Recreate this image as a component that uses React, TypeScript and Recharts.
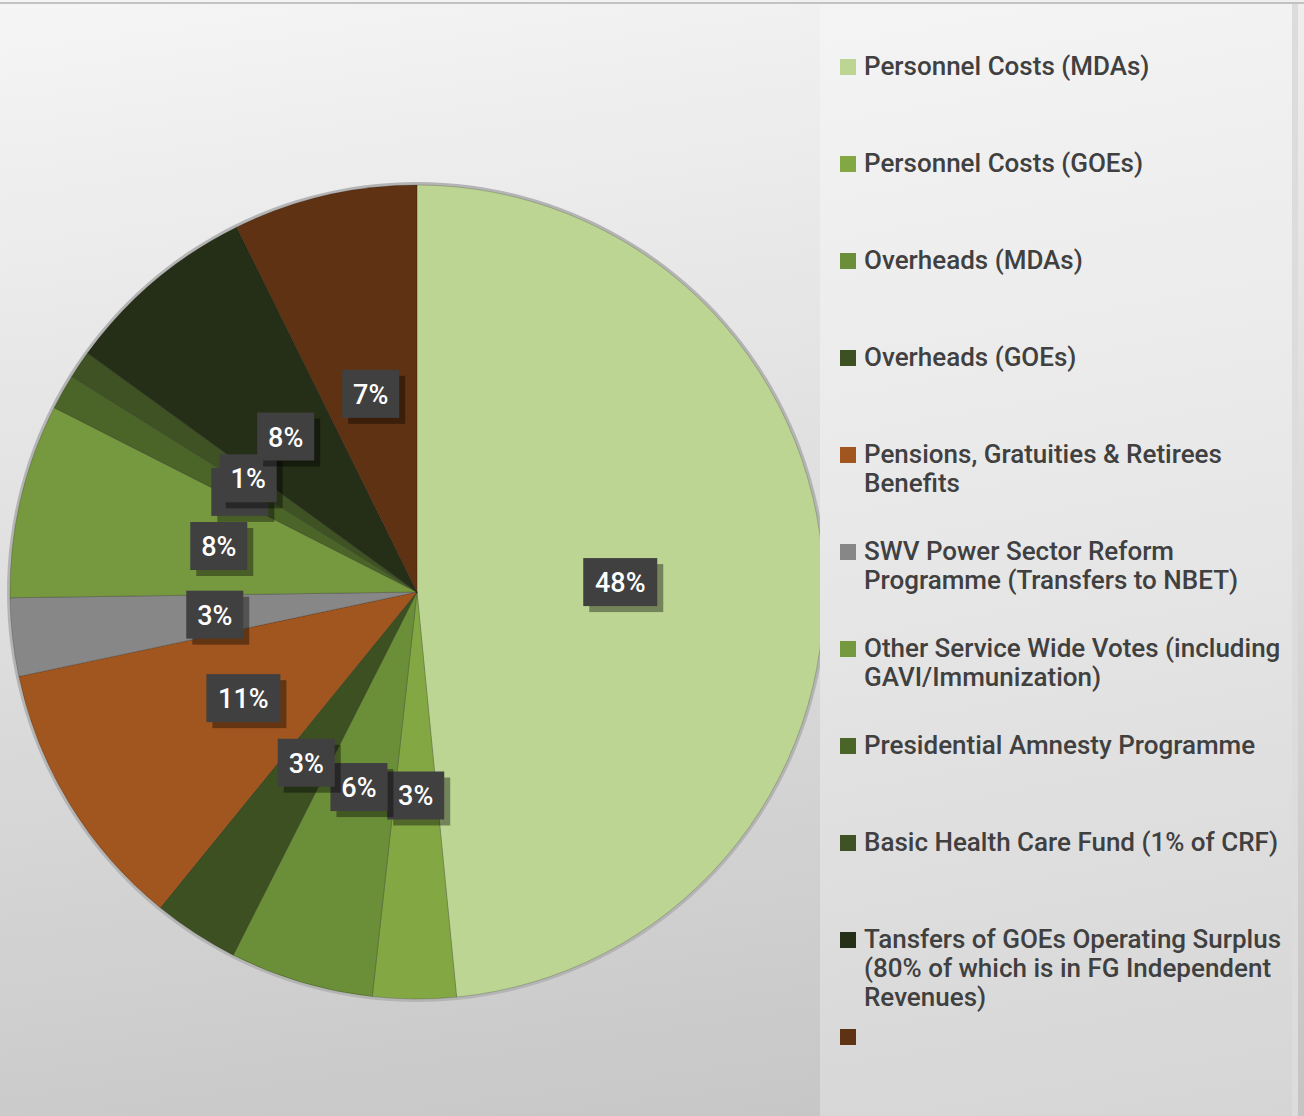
import { PieChart, Pie, Cell, Legend } from "recharts";

const categories = [
  "Personnel Costs (MDAs)",
  "Personnel Costs (GOEs)",
  "Overheads (MDAs)",
  "Overheads (GOEs)",
  "Pensions, Gratuities & Retirees Benefits",
  "SWV Power Sector Reform Programme (Transfers to NBET)",
  "Other Service Wide Votes (including GAVI/Immunization)",
  "Presidential Amnesty Programme",
  "Basic Health Care Fund (1% of CRF)",
  "Tansfers of GOEs Operating Surplus (80% of which is in FG Independent Revenues)",
  "",
];

const shares = [48.4, 3.3, 5.7, 3.4, 10.8, 3.1, 7.7, 1.4, 1.1, 7.7, 7.3];

const sliceColors = [
  "#bcd592",
  "#83a843",
  "#6b8e38",
  "#3c5021",
  "#a2561f",
  "#878787",
  "#76983e",
  "#4b6428",
  "#3e5223",
  "#252e16",
  "#5f3213",
];

const data = categories.map((name, i) => ({ name, value: shares[i], key: `s${i}` }));

const RAD = Math.PI / 180;
const FONT = "Roboto, 'Noto Sans', sans-serif";

function PctLabel(props: any) {
  const { cx, cy, midAngle, outerRadius, percent } = props;
  const r = outerRadius * 0.5;
  const x = cx + r * Math.cos(-midAngle * RAD);
  const y = cy + r * Math.sin(-midAngle * RAD);
  const text = `${Math.round(percent * 100)}%`;
  const w = text.length >= 3 ? 74 : 57;
  const h = 48;
  return (
    <g>
      <rect x={x - w / 2 + 6} y={y - h / 2 + 6} width={w} height={h} fill="rgba(0,0,0,0.38)" />
      <rect x={x - w / 2} y={y - h / 2} width={w} height={h} fill="#404040" />
      <text
        x={x}
        y={y + 1}
        fill="#ffffff"
        textAnchor="middle"
        dominantBaseline="central"
        fontFamily={FONT}
        fontWeight={500}
        fontSize={27}
      >
        {text}
      </text>
    </g>
  );
}

// legend keeps the slice order (recharts would sort it by name)
function LegendBox() {
  return (
    <div
      style={{
        width: 478,
        height: 1112,
        background: "linear-gradient(170deg, #f4f4f4 0%, #e8e8e8 45%, #d5d5d5 100%)",
        borderRight: "6px solid #dcdcdc",
        boxSizing: "border-box",
        paddingTop: 48,
        fontFamily: FONT,
      }}
    >
      {categories.map((name, i) => (
        <div key={i} style={{ height: 97, display: "flex", alignItems: "flex-start" }}>
          <div
            style={{
              width: 16,
              height: 16,
              marginLeft: 20,
              marginTop: 7,
              flex: "0 0 16px",
              background: sliceColors[i],
            }}
          />
          <div
            style={{
              marginLeft: 8,
              width: 425,
              fontSize: 26,
              lineHeight: "29px",
              fontWeight: 500,
              color: "#404040",
            }}
          >
            {name}
          </div>
        </div>
      ))}
    </div>
  );
}

export default function App() {
  return (
    <div
      style={{
        position: "relative",
        width: 1304,
        height: 1116,
        background: "linear-gradient(172deg, #f5f5f5 0%, #e2e2e2 40%, #c4c4c4 100%)",
        overflow: "hidden",
      }}
    >
      <style>{`body{margin:0}`}</style>
      <div style={{ position: "absolute", left: 0, top: 2, width: 1304, height: 2, background: "#c2c2c2" }} />
      <PieChart width={1304} height={1116} margin={{ top: 0, right: 0, bottom: 0, left: 0 }}>
        <Pie
          data={[{ name: "ring", value: 1 }]}
          dataKey="value"
          cx={417}
          cy={592}
          outerRadius={410}
          innerRadius={0}
          stroke="none"
          fill="#b4b4b4"
          legendType="none"
          isAnimationActive={false}
        />
        <Pie
          data={data}
          dataKey="value"
          nameKey="name"
          cx={417}
          cy={592}
          outerRadius={407}
          startAngle={90}
          endAngle={-270}
          stroke="rgba(0,0,0,0.18)"
          strokeWidth={1}
          label={PctLabel}
          labelLine={false}
          isAnimationActive={false}
        >
          {data.map((d, i) => (
            <Cell key={d.key} fill={sliceColors[i]} />
          ))}
        </Pie>
        <Legend
          layout="vertical"
          align="right"
          verticalAlign="top"
          content={LegendBox}
          wrapperStyle={{ left: 820, top: 4, width: 478, height: 1112 }}
        />
      </PieChart>
    </div>
  );
}
